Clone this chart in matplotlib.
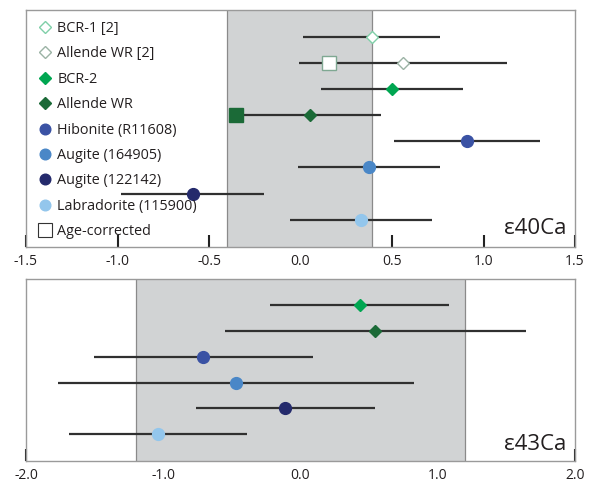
import numpy as np
import matplotlib
matplotlib.use("Agg")
from matplotlib import pyplot as plt
from matplotlib.lines import Line2D

plt.rcParams['font.family'] = ['Open Sans', 'DejaVu Sans']
plt.rcParams['axes.unicode_minus'] = False

# e40Ca panel, top to bottom
names40 = ["BCR-1 [2]", "Allende WR [2]", "BCR-2", "Allende WR", "Hibonite (R11608)",
           "Augite (164905)", "Augite (122142)", "Labradorite (115900)"]
val40 = [0.39, 0.56, 0.50, 0.05, 0.91, 0.375, -0.59, 0.33]
err40 = [0.375, 0.57, 0.39, 0.39, 0.40, 0.39, 0.39, 0.39]
agecorr_names = ["Allende WR [2]", "Allende WR"]
agecorr_val = [0.155, -0.35]
band40 = [-0.40, 0.39]

# e43Ca panel, top to bottom
names43 = ["BCR-2", "Allende WR", "Hibonite (R11608)", "Augite (164905)",
           "Augite (122142)", "Labradorite (115900)"]
val43 = [0.43, 0.545, -0.707, -0.468, -0.11, -1.04]
err43 = [0.655, 1.095, 0.80, 1.297, 0.655, 0.65]
band43 = [-1.2, 1.2]

sty = {
    "BCR-1 [2]": dict(marker='D', mfc='white', mec='#7fcfa8', ms=6.5),
    "Allende WR [2]": dict(marker='D', mfc='white', mec='#9bb3a5', ms=6.5),
    "BCR-2": dict(marker='D', mfc='#00a651', mec='#00a651', ms=6.5),
    "Allende WR": dict(marker='D', mfc='#1b6a37', mec='#1b6a37', ms=6.5),
    "Hibonite (R11608)": dict(marker='o', mfc='#3a52a4', mec='#3a52a4', ms=8.5),
    "Augite (164905)": dict(marker='o', mfc='#4a87c7', mec='#4a87c7', ms=8.5),
    "Augite (122142)": dict(marker='o', mfc='#242a6c', mec='#242a6c', ms=8.5),
    "Labradorite (115900)": dict(marker='o', mfc='#93c6ec', mec='#93c6ec', ms=8.5),
}
sq_sty = {
    "Allende WR [2]": dict(marker='s', mfc='white', mec='#7fa892', ms=9.5),
    "Allende WR": dict(marker='s', mfc='#1b6a37', mec='#1b6a37', ms=9.5),
}

fig = plt.figure(figsize=(5.9, 4.84), dpi=100)
ax1 = fig.add_axes([26/590, 1-247/484, 549/590, 237/484])
ax2 = fig.add_axes([26/590, 1-461/484, 549/590, 182/484])


def panel(ax, names, vals, errs, band, xlim, ticks, ticklabels, label):
    n = len(names)
    ys = np.arange(n, 0, -1)
    ax.axvspan(band[0], band[1], color='#d1d3d4', zorder=2, lw=0)
    for b in band:
        ax.axvline(b, color='#8a8a8a', lw=0.9, zorder=2.1)
    for nm, v, e, y in zip(names, vals, errs, ys):
        ax.plot([v - e, v + e], [y, y], color='#303030', lw=1.6, zorder=3,
                solid_capstyle='butt')
        ax.plot([v], [y], ls='none', zorder=5, **sty[nm])
    ax.set_xlim(*xlim)
    ax.set_ylim(1 - 27/26, n + 26.5/26)
    ax.set_xticks(ticks)
    ax.set_xticklabels(ticklabels)
    ax.set_yticks([])
    ax.tick_params(axis='x', direction='in', length=9, width=1.5, color='#222222',
                   labelsize=10, pad=5, labelcolor='#231f20')
    for s in ax.spines.values():
        s.set_color('#9a9a9a')
        s.set_linewidth(1.0)
    ax.text(0.985, 0.035, label, transform=ax.transAxes, ha='right', va='bottom',
            fontsize=16, color='#231f20', zorder=6)
    return ys


ys40 = panel(ax1, names40, val40, err40, band40, (-1.5, 1.5),
             [-1.5, -1.0, -0.5, 0.0, 0.5, 1.0, 1.5],
             ["-1.5", "-1.0", "-0.5", "0.0", "0.5", "1.0", "1.5"], "ε40Ca")
for nm, v in zip(agecorr_names, agecorr_val):
    y = ys40[names40.index(nm)]
    ax1.plot([v], [y], ls='none', zorder=6, **sq_sty[nm])

panel(ax2, names43, val43, err43, band43, (-2.0, 2.0),
      [-2.0, -1.0, 0.0, 1.0, 2.0], ["-2.0", "-1.0", "0.0", "1.0", "2.0"], "ε43Ca")

handles = []
for nm in names40:
    s = dict(sty[nm])
    s['ms'] = s['ms'] * 0.9
    handles.append(Line2D([], [], ls='none', **s))
handles.append(Line2D([], [], ls='none', marker='s', mfc='white', mec='#333333',
                      ms=9.5, mew=0.8))
labels = names40 + ["Age-corrected"]
leg = ax1.legend(handles, labels, loc='upper left', frameon=False, fontsize=10.4,
                 bbox_to_anchor=(0.006, 0.99), borderaxespad=0.3, handlelength=1.0,
                 handletextpad=0.35, labelspacing=0.72, borderpad=0.3,
                 labelcolor='#231f20')
leg.set_zorder(7)

fig.savefig("out.png", dpi=100)
